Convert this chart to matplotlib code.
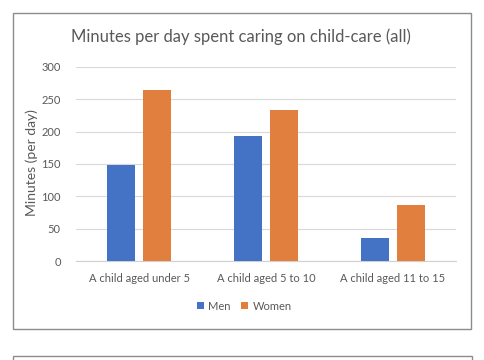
import numpy as np
import matplotlib
matplotlib.use("Agg")
import matplotlib.pyplot as plt
from matplotlib.patches import Rectangle

categories = ["A child aged under 5", "A child aged 5 to 10", "A child aged 11 to 15"]
men = [148, 193, 36]
women = [265, 233, 87]
yticks = [0, 50, 100, 150, 200, 250, 300]

plt.rcParams["font.family"] = ["Lato", "DejaVu Sans"]
text_col = "#595959"

fig = plt.figure(figsize=(4.85, 3.6), dpi=100)
W, H = 485, 360

# chart frame and the next chart's frame peeking in at the bottom
fig.patches.append(Rectangle((13 / W, 1 - 329 / H), 458 / W, 316 / H,
                             transform=fig.transFigure, fill=False,
                             edgecolor="#8c8c8c", linewidth=1.0))
fig.patches.append(Rectangle((13 / W, -0.1), 459 / W, 0.1 + 1 - 356 / H,
                             transform=fig.transFigure, fill=False,
                             edgecolor="#8c8c8c", linewidth=1.0))

ax = fig.add_axes([76 / W, 1 - 261 / H, 380 / W, 194 / H])
x = np.arange(len(categories))
w = 0.22
off = 0.142
ax.bar(x - off, men, w, color="#4472C4", label="Men", zorder=3)
ax.bar(x + off, women, w, color="#E07F3E", label="Women", zorder=3)

ax.set_xlim(-0.5, len(categories) - 0.5)
ax.set_ylim(0, 300)
ax.set_yticks(yticks)
ax.yaxis.grid(True, color="#d9d9d9", linewidth=0.8, zorder=0)
ax.set_axisbelow(True)
for s in ["top", "right", "left"]:
    ax.spines[s].set_visible(False)
ax.spines["bottom"].set_color("#d0d0d0")
ax.tick_params(axis="both", length=0, colors=text_col, labelsize=8)
ax.tick_params(axis="y", pad=11)
ax.tick_params(axis="x", pad=9)
ax.set_xticks(x)
ax.set_xticklabels(categories)
ax.set_ylabel("Minutes (per day)", color=text_col, fontsize=10)
ax.yaxis.set_label_coords(-0.1, 0.505)

fig.text(241 / W, 1 - 37 / H, "Minutes per day spent caring on child-care (all)",
         ha="center", va="center", fontsize=12, color=text_col)

ax.legend(loc="center", bbox_to_anchor=(244 / W, 1 - 306 / H),
          bbox_transform=fig.transFigure, ncol=2, frameon=False,
          fontsize=8, handlelength=0.65, handleheight=0.65, handletextpad=0.35,
          columnspacing=1.0, labelcolor=text_col)

fig.savefig("out.png", dpi=100)
